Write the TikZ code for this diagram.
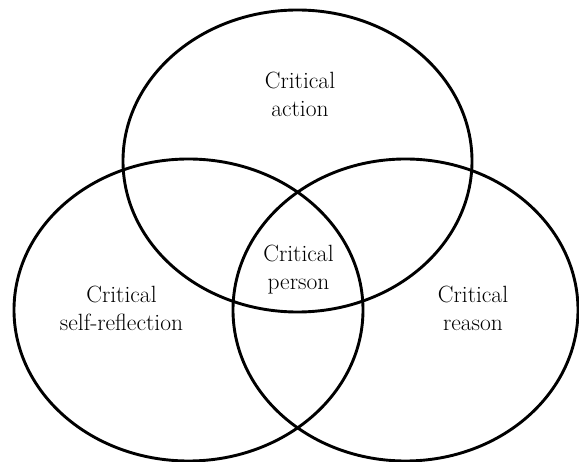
\documentclass[tikz,border=0pt]{standalone}
\begin{document}
\begin{tikzpicture}[x=1pt,y=-1pt,
  ring/.style={line width=2.9pt},
  label/.style={align=center, inner sep=0pt, font=\fontsize{23.5}{28}\selectfont}]
\useasboundingbox (0,0) rectangle (579,462);
\draw[ring] (297.5,161) ellipse [x radius=174.5, y radius=151];
\draw[ring] (188.5,310) ellipse [x radius=174.5, y radius=151];
\draw[ring] (405.5,310) ellipse [x radius=172.5, y radius=151];
\node[label] (action) at (300,94) {Critical\\action};
\node[label] (person) at (298.5,270) {Critical\\person};
\node[label] (self) at (121.5,308) {Critical\\self-reflection};
\node[label] (reason) at (473,308) {Critical\\reason};
\end{tikzpicture}
\end{document}
